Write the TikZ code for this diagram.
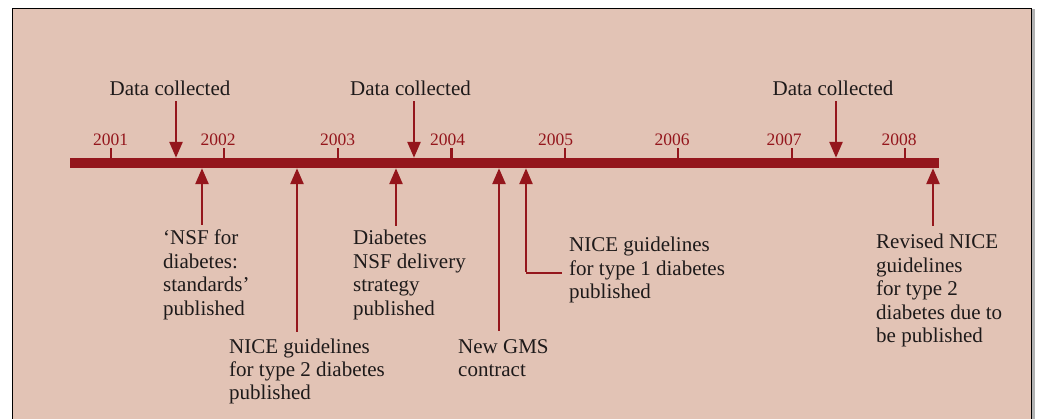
\documentclass[tikz,border=0pt]{standalone}
\usepackage{xcolor}
\usepackage{fontspec}
\setmainfont{Liberation Serif}
\usepackage{tikz}
\usetikzlibrary{positioning,arrows.meta}

\definecolor{panelbg}{HTML}{E2C3B5}
\definecolor{barred}{HTML}{94161C}
\definecolor{inkblack}{HTML}{1E1A1A}

\tikzset{
  event/.style={anchor=base west, align=left, inner sep=0pt, text=inkblack,
    font=\fontsize{21}{23.4}\selectfont},
  datalabel/.style={anchor=base, inner sep=0pt, text=inkblack,
    font=\fontsize{21}{23.4}\selectfont},
  yearlabel/.style={anchor=base, inner sep=0pt, text=barred,
    font=\fontsize{17.5}{20}\selectfont},
  pin/.style={draw=barred, line width=2.6pt, -{Triangle[length=16pt,width=13pt]}},
  elbow/.style={draw=barred, line width=2.6pt},
}

\begin{document}
\begin{tikzpicture}[x=1pt, y=-1pt, line cap=butt, line join=miter]
		\useasboundingbox (0,0) rectangle (1038,419);
		\fill[white] (0,0) rectangle (1038,419);
		% panel
		\fill[gray!60] (1031,9) rectangle (1035,425);
		\draw[fill=panelbg, line width=1.4pt] (12.5,8.5) rectangle (1031.5,430);
		
		% time axis
		\node[fill=barred, inner sep=0pt, minimum width=869pt, minimum height=10pt] (bar) at (504.5,163) {};
		\foreach \yr/\tx/\lx in {2001/111/110.5, 2002/224/218, 2003/338/337.5, 2004/451.5/447.5,
		                         2005/565/555.5, 2006/678/672, 2007/792/784, 2008/905/899}{
			\draw[barred, line width=2.2pt] (bar.north -| \tx,0) -- ++(0,-10);
			\node[yearlabel] (y\yr) at (\lx,146) {\yr};
		}
		
		% data collection points
		\node[datalabel] (data1) at (170,96) {Data collected};
		\node[datalabel] (data2) at (410.5,96) {Data collected};
		\node[datalabel] (data3) at (833,96) {Data collected};
		\coordinate (d1) at (176,0);
		\coordinate (d2) at (414,0);
		\coordinate (d3) at (836,0);
		\foreach \d in {1,2,3}
			\draw[pin] ([yshift=-5pt]data\d.south -| d\d) -- (bar.north -| d\d);
		
		% events below the axis (base = last line)
		\node[event] (nsf) at (163,315.2) {`NSF for\\diabetes:\\standards'\\published};
		\node[event] (nice2) at (229,399.8) {NICE guidelines\\for type 2 diabetes\\published};
		\node[event] (nsfdel) at (353,315.2) {Diabetes\\NSF delivery\\strategy\\published};
		\node[event] (gms) at (458,376.4) {New GMS\\contract};
		\node[event] (nice1) at (569,298.8) {NICE guidelines\\for type 1 diabetes\\published};
		\node[event] (revised) at (876,342.6) {Revised NICE\\guidelines\\for type 2\\diabetes due to\\be published};
		
		\coordinate (nsfpin) at (202,225);
		\coordinate (nice2pin) at (297,332);
		\coordinate (nsfdelpin) at (396,226);
		\coordinate (gmspin) at (499,331);
		\coordinate (revisedpin) at (933,226);
		\foreach \p in {nsfpin,nice2pin,nsfdelpin,gmspin,revisedpin}
			\draw[pin] (\p) -- (\p |- bar.south);
		
		\coordinate (nice1pin) at (562,273);
		\coordinate (nice1turn) at (526,273);
		\draw[elbow] (nice1pin) -- (nice1turn);
		\draw[pin] ([yshift=1.3pt]nice1turn) -- (nice1turn |- bar.south);
	\end{tikzpicture}
\end{document}
